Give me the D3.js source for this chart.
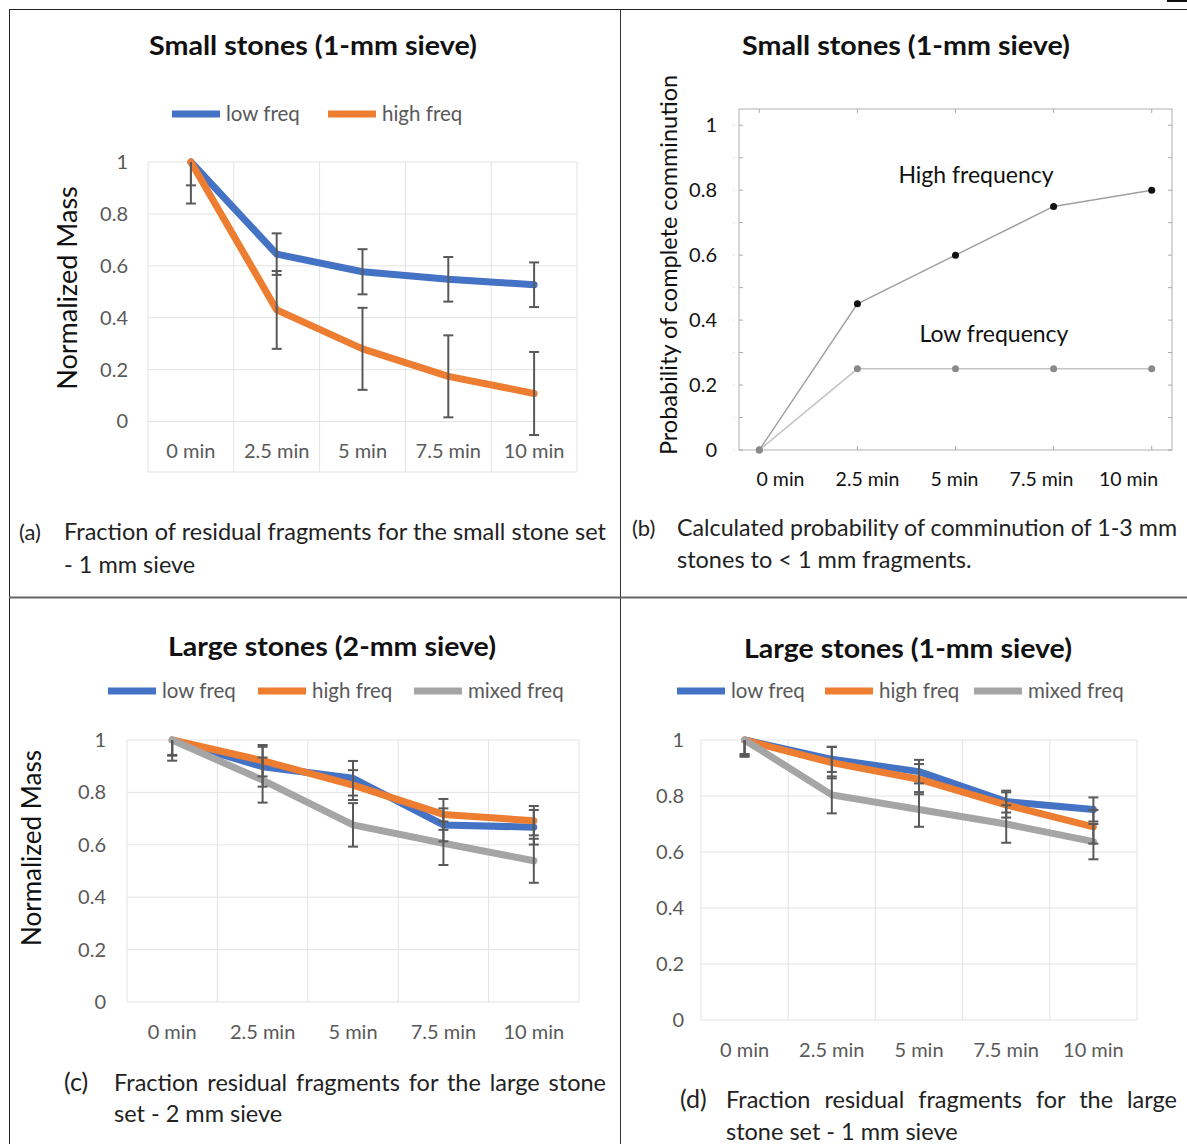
<!DOCTYPE html>
<html><head><meta charset="utf-8">
<script src="https://cdn.jsdelivr.net/npm/d3@7"></script>
<style>
body{margin:0;background:#fff}
text{font-family:Lato,"Open Sans",sans-serif}
</style></head><body>
<svg id="fig" width="1187" height="1144"></svg>
<script>
// categories and ticks
var cats = ["0 min","2.5 min","5 min","7.5 min","10 min"];
var yTicks = [0,0.2,0.4,0.6,0.8,1];
var probTicks = [0,0.2,0.4,0.6,0.8,1];
var probMinor = [0,0.1,0.2,0.3,0.4,0.5,0.6,0.7,0.8,0.9,1];

// (a) small stones, 1 mm sieve
var aLow = [1,0.645,0.577,0.548,0.527];
var aLowErr = [0.16,0.08,0.087,0.086,0.086];
var aHigh = [1,0.43,0.28,0.174,0.108];
var aHighErr = [0.09,0.15,0.158,0.158,0.16];

// (b) probability of complete comminution
var bHigh = [0,0.45,0.6,0.75,0.8];
var bLow = [0,0.25,0.25,0.25,0.25];

// (c) large stones, 2 mm sieve
var cLow = [1,0.898,0.854,0.676,0.667];
var cLowErr = [0.057,0.076,0.066,0.063,0.066];
var cHigh = [1,0.921,0.828,0.716,0.692];
var cHighErr = [0.079,0.06,0.057,0.059,0.056];
var cMixed = [1,0.847,0.676,0.606,0.539];
var cMixedErr = [0.06,0.086,0.083,0.083,0.084];

// (d) large stones, 1 mm sieve
var dLow = [1,0.931,0.887,0.78,0.752];
var dLowErr = [0.05,0.045,0.042,0.039,0.043];
var dHigh = [1,0.919,0.86,0.768,0.69];
var dHighErr = [0.06,0.056,0.054,0.045,0.06];
var dMixed = [1,0.804,0.752,0.7,0.637];
var dMixedErr = [0.055,0.066,0.062,0.067,0.063];

var BLUE="#4472C4", ORANGE="#ED7D31", GRAY="#A5A5A5", TXT="#595959";

var svg = d3.select("#fig");

// table borders
svg.append("line").attr("x1",9).attr("x2",1187).attr("y1",9.5).attr("y2",9.5).attr("stroke","#222");
svg.append("line").attr("x1",9.5).attr("x2",9.5).attr("y1",9).attr("y2",1144).attr("stroke","#222");
svg.append("line").attr("x1",620.5).attr("x2",620.5).attr("y1",9).attr("y2",1144).attr("stroke","#333");
svg.append("line").attr("x1",9).attr("x2",1187).attr("y1",597.5).attr("y2",597.5).attr("stroke","#666").attr("stroke-width",2);
svg.append("rect").attr("x",1167).attr("y",0).attr("width",20).attr("height",2).attr("fill","#111");

function title(g, t, cx, y){
	g.append("text").attr("x",cx).attr("y",y).attr("text-anchor","middle")
		.attr("textLength",328).attr("lengthAdjust","spacingAndGlyphs")
		.style("font-size","27px").style("font-weight","bold").attr("fill","#111").text(t);
}

function excelChart(c){
	var g = svg.append("g");
	var x = d3.scaleBand().domain(cats).range([c.left,c.right]);
	var y = d3.scaleLinear().domain([0,1]).range([c.bottom,c.top]);

	// grid
	g.selectAll(".hg").data(yTicks).enter().append("line")
		.attr("x1",c.left).attr("x2",c.right)
		.attr("y1",function(d){return y(d);}).attr("y2",function(d){return y(d);})
		.attr("stroke","#e3e3e3").attr("stroke-width",1);
	var bounds = cats.map(function(d){return x(d);}).concat([c.right]);
	g.selectAll(".vg").data(bounds).enter().append("line")
		.attr("x1",function(d){return d;}).attr("x2",function(d){return d;})
		.attr("y1",c.top).attr("y2",c.gridBottom)
		.attr("stroke","#e3e3e3").attr("stroke-width",1);
	if(c.gridBottom>c.bottom){
		g.append("line").attr("x1",c.left).attr("x2",c.right)
			.attr("y1",c.gridBottom).attr("y2",c.gridBottom).attr("stroke","#e3e3e3");
	}

	// y axis labels
	var ya = g.append("g").attr("transform","translate("+c.left+",0)")
		.call(d3.axisLeft(y).tickValues(yTicks).tickSize(0).tickPadding(c.pad).tickFormat(d3.format("~g")));
	ya.select(".domain").remove();
	ya.selectAll("text").attr("fill",TXT).style("font-size","20px").style("font-family","Lato");

	// x labels
	var xa = g.append("g").attr("transform","translate(0,"+c.labelY+")")
		.call(d3.axisBottom(x).tickSize(0).tickPadding(0));
	xa.select(".domain").remove();
	xa.selectAll("text").attr("fill",TXT).attr("dy",0).style("font-size","20px").style("font-family","Lato");

	// lines
	var line = d3.line().x(function(d,i){return x(cats[i])+x.bandwidth()/2;}).y(function(d){return y(d);});
	c.series.forEach(function(s){
		g.append("path").datum(s.vals).attr("d",line).attr("fill","none")
			.attr("stroke",s.color).attr("stroke-width",7)
			.attr("stroke-linejoin","round").attr("stroke-linecap","round");
	});
	// error bars
	c.series.forEach(function(s){
		s.vals.forEach(function(v,i){
			var cx = x(cats[i])+x.bandwidth()/2;
			var hi = Math.min(v+s.errs[i],1), lo = v-s.errs[i];
			g.append("line").attr("x1",cx).attr("x2",cx).attr("y1",y(hi)).attr("y2",y(lo))
				.attr("stroke","#595959").attr("stroke-width",2);
			[hi,lo].forEach(function(e){
				if(e>=1) return;
				g.append("line").attr("x1",cx-5).attr("x2",cx+5).attr("y1",y(e)).attr("y2",y(e))
					.attr("stroke","#595959").attr("stroke-width",2);
			});
		});
	});

	title(g, c.title, c.titleX, c.titleY);
	// legend
	c.series.forEach(function(s,i){
		var lx = c.legendX[i];
		g.append("line").attr("x1",lx).attr("x2",lx+48).attr("y1",c.legendY).attr("y2",c.legendY)
			.attr("stroke",s.color).attr("stroke-width",7);
		g.append("text").attr("x",lx+54).attr("y",c.legendY+7).attr("fill",TXT)
			.style("font-size","20.5px").text(s.name);
	});
	// y title
	if(c.yTitle){
		g.append("text").attr("transform","translate("+c.yTitleX+","+c.yTitleY+") rotate(-90)")
			.attr("text-anchor","middle").style("font-size",c.yTitleSize+"px").attr("fill","#111").text(c.yTitle);
	}
}

// caption: first line justified to a width by spreading word gaps
function caption(tag, tagX, tagSize, textX, lines, y0, lh, firstWidth){
	svg.append("text").attr("x",tagX).attr("y",y0).style("font-size",tagSize+"px").attr("fill","#222").text(tag);
	lines.forEach(function(t,i){
		var tx = svg.append("text").attr("x",textX).attr("y",y0+i*lh).style("font-size","23.5px").attr("fill","#222").text(t);
		if(i==0 && firstWidth){
			var w = tx.node().getComputedTextLength();
			var gaps = t.split(" ").length-1;
			var ws = (firstWidth-w)/gaps;
			if(ws>0) tx.style("word-spacing",ws+"px");
			else tx.attr("textLength",firstWidth).attr("lengthAdjust","spacingAndGlyphs");
		}
	});
}

// (a)
excelChart({left:148,right:577,top:162,bottom:421.5,gridBottom:472,labelY:458,pad:20,
	title:"Small stones (1-mm sieve)",titleX:313,titleY:55,legendY:114,legendX:[172,328],
	yTitle:"Normalized Mass",yTitleX:77,yTitleY:288,yTitleSize:27,
	series:[{name:"low freq",vals:aLow,errs:aLowErr,color:BLUE},
		{name:"high freq",vals:aHigh,errs:aHighErr,color:ORANGE}]});
caption("(a)",19,22,64,["Fraction of residual fragments for the small stone set","- 1 mm sieve"],540,33,542);

// (c)
excelChart({left:127,right:579,top:740,bottom:1002,gridBottom:1002,labelY:1039,pad:21,
	title:"Large stones (2-mm sieve)",titleX:332,titleY:656,legendY:691,legendX:[108,258,414],
	yTitle:"Normalized Mass",yTitleX:41,yTitleY:848,yTitleSize:26,
	series:[{name:"low freq",vals:cLow,errs:cLowErr,color:BLUE},
		{name:"high freq",vals:cHigh,errs:cHighErr,color:ORANGE},
		{name:"mixed freq",vals:cMixed,errs:cMixedErr,color:GRAY}]});
caption("(c)",64,25,114,["Fraction residual fragments for the large stone","set - 2 mm sieve"],1091,31,492);

// (d)
excelChart({left:701,right:1137,top:740,bottom:1020,gridBottom:1020,labelY:1057,pad:17,
	title:"Large stones (1-mm sieve)",titleX:908,titleY:658,legendY:691,legendX:[677,825,974],
	series:[{name:"low freq",vals:dLow,errs:dLowErr,color:BLUE},
		{name:"high freq",vals:dHigh,errs:dHighErr,color:ORANGE},
		{name:"mixed freq",vals:dMixed,errs:dMixedErr,color:GRAY}]});
caption("(d)",680,25,726,["Fraction residual fragments for the large","stone set - 1 mm sieve"],1108,32,451);

// (b) probability plot
!function(){
	var g = svg.append("g");
	var L=739, R=1172, T=109, B=450;
	var x = d3.scalePoint().domain(cats).range([759.3,1151.7]);
	var xl = d3.scaleBand().domain(cats).range([737,1172]);
	var y = d3.scaleLinear().domain([0,1.05]).range([B,T]);

	g.append("rect").attr("x",L).attr("y",T).attr("width",R-L).attr("height",B-T)
		.attr("fill","none").attr("stroke","#bdbdbd").attr("stroke-width",1.2);
	// minor ticks
	probMinor.forEach(function(v){
		var yy = y(v);
		g.append("line").attr("x1",L).attr("x2",L+4).attr("y1",yy).attr("y2",yy).attr("stroke","#aaa");
		g.append("line").attr("x1",R-4).attr("x2",R).attr("y1",yy).attr("y2",yy).attr("stroke","#aaa");
		g.append("line").attr("x1",L-6).attr("x2",L-5).attr("y1",yy).attr("y2",yy).attr("stroke","#ccc");
	});
	cats.forEach(function(cn){
		var xx = x(cn);
		g.append("line").attr("x1",xx).attr("x2",xx).attr("y1",T).attr("y2",T+4).attr("stroke","#aaa");
		g.append("line").attr("x1",xx).attr("x2",xx).attr("y1",B-4).attr("y2",B).attr("stroke","#aaa");
	});

	var ya = g.append("g").attr("transform","translate("+(L-22)+",0)")
		.call(d3.axisLeft(y).tickValues(probTicks).tickSize(0).tickPadding(0).tickFormat(d3.format("~g")));
	ya.select(".domain").remove();
	ya.selectAll("text").attr("fill","#111").style("font-size","20px").style("font-family","Lato");

	var xa = g.append("g").attr("transform","translate(0,486)")
		.call(d3.axisBottom(xl).tickSize(0).tickPadding(0));
	xa.select(".domain").remove();
	xa.selectAll("text").attr("fill","#111").attr("dy",0).style("font-size","19.5px").style("font-family","Lato");

	var line = d3.line().x(function(d,i){return x(cats[i]);}).y(function(d){return y(d);});
	g.append("path").datum(bLow).attr("d",line).attr("fill","none").attr("stroke","#c4c4c4").attr("stroke-width",1.5);
	g.append("path").datum(bHigh).attr("d",line).attr("fill","none").attr("stroke","#a0a0a0").attr("stroke-width",1.5);
	g.selectAll(".pl").data(bLow).enter().append("circle")
		.attr("cx",function(d,i){return x(cats[i]);}).attr("cy",function(d){return y(d);})
		.attr("r",3.5).attr("fill","#8a8a8a");
	g.selectAll(".ph").data(bHigh).enter().append("circle")
		.attr("cx",function(d,i){return x(cats[i]);}).attr("cy",function(d){return y(d);})
		.attr("r",3.5).attr("fill",function(d){return d>0?"#111":"#8a8a8a";});

	g.append("text").attr("x",976).attr("y",183).attr("text-anchor","middle")
		.style("font-size","23px").attr("fill","#111").text("High frequency");
	g.append("text").attr("x",994).attr("y",342).attr("text-anchor","middle")
		.style("font-size","23px").attr("fill","#111").text("Low frequency");

	g.append("text").attr("transform","translate(677,265) rotate(-90)").attr("text-anchor","middle")
		.style("font-size","23.5px").attr("fill","#111").text("Probability of complete comminution");
	title(g, "Small stones (1-mm sieve)", 906, 55);
}();
caption("(b)",632,22,677,["Calculated probability of comminution of 1-3 mm","stones to < 1 mm fragments."],536,32,500);
</script>
</body></html>
